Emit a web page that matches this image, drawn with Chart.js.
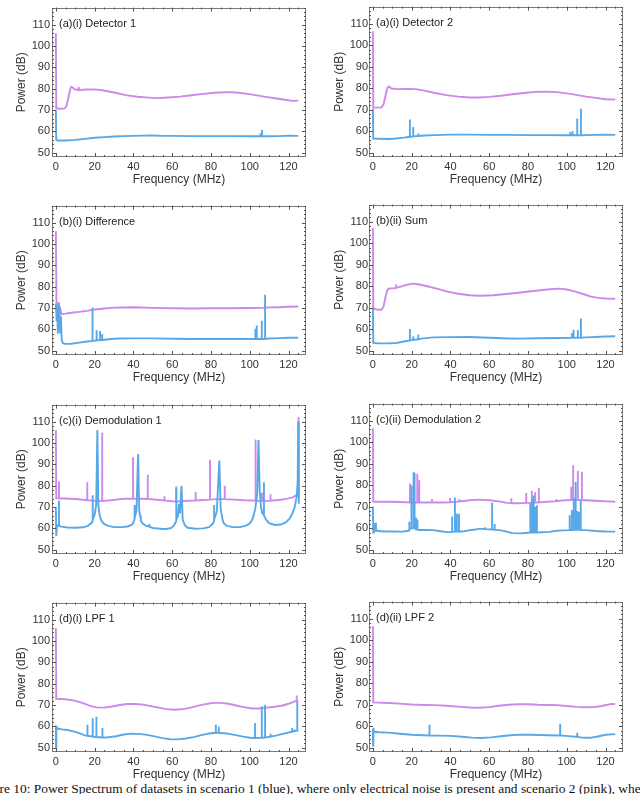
<!DOCTYPE html>
<html><head><meta charset="utf-8">
<script src="https://cdn.jsdelivr.net/npm/chart.js@4/dist/chart.umd.min.js"></script>
<style>
html,body{margin:0;padding:0;background:#fff;width:640px;height:794px;overflow:hidden;position:relative}
.p{position:absolute;width:320px;height:198px}
#caption{position:absolute;left:-25px;top:781px;font-size:13.4px;font-family:"Liberation Serif",serif;white-space:nowrap;color:#111}
</style></head><body>
<div id="caption">Figure 10: Power Spectrum of datasets in scenario 1 (blue), where only electrical noise is present and scenario 2 (pink), where</div>
<script>
// ---- axis ticks ----
const freqTicks = [0,20,40,60,80,100,120];
const powerTicks = [50,60,70,80,90,100,110];

// ---- (a)(i) Detector 1 ----
const a1Pink = [[0,106],[0.2,70.8],[2,70.6],[4.5,70.8],[5.5,72],[6.5,76],[7.5,80.2],[8.2,80.9],[9.5,79.8],[11.8,79.4],[11.8,80.8],[11.8,79.4],[16,79.6],[20,79.7],[24,79.3],[30,78.2],[36,77],[42,76.2],[48,75.8],[52,75.6],[58,75.9],[64,76.3],[70,76.9],[76,77.6],[82,78.1],[88,78.4],[93,78.2],[98,77.7],[103,77],[108,76.2],[113,75.5],[118,74.8],[122,74.3],[125,74.4]];
const a1Blue = [[0,70],[0.2,56],[1,55.7],[5,55.7],[10,56],[15,56.5],[20,57],[25,57.3],[30,57.6],[35,57.8],[40,57.9],[45,58],[50,58.1],[55,57.9],[60,57.9],[70,57.8],[80,57.8],[90,57.8],[100,57.7],[105.5,57.7],[105.5,59],[105.5,57.7],[106.3,57.7],[106.3,60.8],[106.3,57.7],[110,57.7],[115,57.8],[120,58],[125,57.9]];

// ---- (a)(i) Detector 2 ----
const a2Pink = [[0,106.5],[0.2,71],[2,71],[4.5,71.1],[5.5,72.5],[6.5,76.5],[7.5,80.2],[8.3,80.8],[9.5,79.9],[13,79.6],[18,79.7],[22,79.6],[26,79],[32,77.8],[38,76.8],[44,76.1],[50,75.7],[55,75.7],[60,76],[66,76.5],[72,77.2],[78,77.8],[84,78.3],[90,78.4],[95,78.2],[100,77.6],[105,76.9],[110,76.1],[115,75.5],[120,74.9],[125,74.7]];
const a2Blue = [[0,70.5],[0.2,56.6],[3,56.5],[8,56.4],[12,56.6],[16,57],[19.1,57.4],[19.1,65.4],[19.1,57.4],[20.8,57.6],[20.8,62],[20.8,57.6],[23.4,57.8],[23.4,58.9],[23.4,57.8],[27,58],[32,58.2],[40,58.4],[50,58.4],[60,58.3],[70,58.3],[80,58.2],[90,58.2],[100,58.1],[101.8,58.1],[101.8,59.6],[101.8,58.1],[103,58.1],[103,60],[103,58.1],[105.4,58.1],[105.4,65.9],[105.4,58.1],[107.3,58.1],[107.3,70.5],[107.3,58.1],[110,58.2],[115,58.3],[120,58.4],[125,58.3]];

// ---- (b)(i) Difference ----
const b1Pink = [[0,106],[0.3,73],[0.6,68.5],[0.9,72.5],[1.2,69],[1.5,72.8],[1.8,68],[2.3,69.5],[3,67.2],[5,67.4],[8,67.8],[12,68.2],[16,68.7],[20,69.3],[25,69.8],[30,70.2],[40,70.4],[50,70.1],[60,69.9],[70,69.8],[80,69.9],[90,69.9],[100,70],[105,70.1],[107.9,70.2],[107.9,71.5],[107.9,70.2],[110,70.3],[115,70.4],[120,70.6],[125,70.7]];
const b1Blue = [[0,72],[0.4,64],[0.7,70],[1,58],[1.3,71.5],[1.6,60],[1.9,70],[2.2,58.5],[2.6,66],[3,55],[3.6,53.5],[5,53.2],[8,53.3],[12,53.8],[16,54.3],[18.9,54.6],[18.9,70.2],[18.9,54.6],[21,54.8],[21,59.6],[21,54.8],[22.8,55],[22.8,59.3],[22.8,55],[23.9,55],[23.9,57.8],[23.9,55],[27,55.4],[32,55.7],[40,55.8],[50,55.8],[60,55.6],[70,55.5],[80,55.5],[90,55.5],[100,55.5],[102.9,55.5],[102.9,60.3],[102.9,55.5],[103.6,55.5],[103.6,61.8],[103.6,55.5],[106.2,55.5],[106.2,64],[106.2,55.5],[107.9,55.5],[107.9,76.2],[107.9,55.5],[110,55.7],[115,55.9],[120,56.1],[125,56.1]];

// ---- (b)(ii) Sum ----
const b2Pink = [[0,107],[0.2,69.5],[2,69.2],[4.5,69.1],[5.5,70.5],[6.5,75],[7.5,78.3],[8.5,79],[11,79],[12,79.3],[12,80.8],[12,79.3],[14,79.7],[17,80.6],[20.6,81.2],[24,80.8],[28,80],[33,78.9],[38,77.6],[44,76.5],[50,75.8],[55,75.6],[62,75.8],[69,76.4],[76,77.1],[84,77.9],[90,78.5],[96,78.9],[100,78.5],[104,77.6],[108,76.5],[112,75.3],[116,74.6],[120,74.3],[125,74.2]];
const b2Blue = [[0,70],[0.2,53.6],[3,53.4],[8,53.4],[12,53.6],[16,54.3],[19.1,54.8],[19.1,60.1],[19.1,54.8],[20.8,55],[20.8,56.7],[20.8,55],[23.4,55.3],[23.4,57.5],[23.4,55.3],[25,55.6],[31,56.2],[40,56.3],[50,56.4],[60,56],[70,55.7],[76,55.6],[85,55.8],[95,55.9],[102.6,56],[102.6,58.1],[102.6,56],[103.5,56],[103.5,59.7],[103.5,56],[105.7,56],[105.7,59.6],[105.7,56],[107.3,56],[107.3,65],[107.3,56],[110,56.2],[115,56.4],[120,56.6],[125,56.7]];

// ---- (c)(i) Demodulation 1 ----
const c1Pink = [[0,106],[0.2,74.2],[1.6,74],[1.6,82],[1.6,74],[5,74],[10,73.8],[16.2,73.2],[16.2,81.6],[16.2,73.2],[20,72.9],[23.9,72.8],[23.9,104.8],[23.9,73],[27,73.1],[31,73.5],[35,73.9],[39.8,74],[39.8,93.3],[39.8,74],[44,73.9],[47.4,73.8],[47.4,85.1],[47.4,73.8],[52,73.4],[56,73.1],[56,75.1],[56,73.1],[60,72.7],[62.1,72.6],[62.1,79.6],[62.1,72.6],[66,72.8],[72.1,73.1],[72.1,77.1],[72.1,73.1],[76,73.3],[79.5,73.5],[79.5,92.2],[79.5,73.5],[83,73.7],[87.1,73.7],[87.1,80],[87.1,73.7],[92,73.5],[97,73.2],[103,73],[103,101.6],[103,72.9],[106.3,72.9],[106.3,76.7],[106.3,72.9],[110.7,73],[110.7,76],[110.7,73],[115,73.3],[119,73.8],[122,74.5],[124.2,75.6],[125,76.2],[125,112.2],[125.3,76]];
const c1Blue = [[0,70],[0.2,56.3],[0.6,61.5],[1.6,61.2],[1.6,73],[1.6,61.2],[3,60.8],[6,60.4],[10,60.3],[14,60.5],[16.5,61.2],[18,62.3],[19,63.5],[19,75.5],[19,64],[20,66.5],[20.8,71],[21.4,106.1],[21.9,71],[22.6,66],[23.5,63.5],[25,62],[27,61.2],[30,60.6],[34,60.6],[37,60.9],[39,61.6],[40.1,63],[40.6,64.5],[40.6,71],[40.6,65],[41.6,68.5],[42.4,94.9],[43,68],[43.8,64.5],[43.8,66],[43.8,63.5],[45,62],[47,61],[48.2,61],[48.2,62],[48.2,60.8],[50,60.2],[54,59.8],[57,59.7],[59.5,60.2],[61,61.5],[62.1,63.5],[62.1,79],[62.1,64],[63,66],[63.5,71.5],[64,67],[64.8,79.9],[65.4,64],[66.5,61.5],[68,60.3],[72,59.8],[76,60],[79,60.6],[81,62.3],[81.6,63.5],[81.6,71],[81.6,64],[83,68],[84.3,91.8],[85,69],[85.8,65],[85.8,64.8],[86.5,62.5],[88,61.3],[91,60.6],[95,60.6],[98,61.3],[100,62.3],[101.5,64.5],[102.8,69],[103.8,76],[104.5,101.4],[105.1,78],[105.8,70],[106.5,67],[107.3,67],[107.3,81.6],[107.3,66],[108.5,64],[110,62.5],[113,61.6],[116,61.8],[118.5,62.8],[120.5,64.5],[122,67],[123.2,70],[124.2,75],[124.7,82],[125,110],[125.3,71.5]];

// ---- (c)(ii) Demodulation 2 ----
const c2Pink = [[0,106.5],[0.2,72.4],[3,72.3],[8,72.3],[14,72.2],[19.1,72],[19.1,80.8],[19.1,72],[21,72],[22.9,72],[22.9,85.3],[22.9,72],[23.9,72],[23.9,82.3],[23.9,72],[27,72],[30.5,72.1],[30.5,73.6],[30.5,72.1],[35,72],[39.8,72.1],[39.8,74.1],[39.8,72.1],[43,72.4],[44.6,72.5],[44.6,73.6],[44.6,72.5],[50,73],[55,73.3],[60,73],[65,72.5],[69,71.8],[71.4,71.6],[71.4,74],[71.4,71.6],[75,71.6],[79.1,71.8],[79.1,76.4],[79.1,71.8],[82,71.9],[82,77.4],[82,71.9],[83.7,72],[83.7,76.7],[83.7,72],[85.6,72],[85.6,78.8],[85.6,72],[90,72.3],[94.6,72.6],[94.6,73.6],[94.6,72.6],[99,73],[102.3,73.1],[102.3,79.3],[102.3,73.1],[103.3,73.1],[103.3,89.3],[103.3,73.1],[105.7,73.1],[105.7,86.8],[105.7,73.1],[107.8,73.1],[107.8,86.3],[107.8,73.1],[112,72.9],[117,72.7],[121,72.5],[125,72.3]];
const c2Blue = [[0,70],[0.2,58],[0.5,62],[0.8,58.5],[1.2,62.5],[1.6,58.8],[2.5,58.8],[5,58.5],[10,58.5],[15,58.4],[18,58.7],[18.8,59],[18.8,63],[18.8,59.5],[19.9,60],[19.9,80],[19.9,60],[21,60],[21,86],[21,60],[21.5,60],[21.5,85.8],[21.5,60],[22.2,60],[22.2,65],[22.2,59.5],[23,59.5],[23,64],[23,59.3],[24,59.2],[27,59.2],[31,59.1],[35,58.6],[38,58.2],[40.9,58.3],[40.9,65.5],[40.9,58.3],[42.3,58.4],[42.3,74.3],[42.3,58.4],[43.3,58.4],[43.3,66.7],[43.3,58.4],[44.4,58.4],[44.4,66.7],[44.4,58.4],[47,58.6],[51,59.2],[55,59.7],[58,59.7],[58,60.5],[58,59.6],[61.5,59.4],[61.5,71.8],[61.5,59.4],[62.8,59.3],[62.8,62],[62.8,59.3],[66,59],[69,58.4],[72,57.7],[76,57.6],[80,57.9],[81.2,58],[81.2,71.5],[81.2,58],[82.2,58],[82.2,73.7],[82.2,58],[82.9,58],[82.9,75.2],[82.9,58],[83.8,58],[83.8,70],[83.8,58],[84.6,58],[84.6,70.7],[84.6,58],[87,58.1],[91,58.3],[95,58.8],[98,59],[101.5,59.1],[101.5,66],[101.5,59.2],[102.6,59.2],[102.6,68.5],[102.6,59.2],[103.6,59.2],[103.6,74],[103.6,59.2],[104.6,59.3],[104.6,81.5],[104.6,59.3],[105.5,59.3],[105.5,68],[105.5,59.3],[106.2,59.3],[106.2,67.5],[106.2,59.3],[107.2,59.2],[107.2,73],[107.2,59.2],[110,59.1],[115,58.7],[120,58.5],[125,58.4]];

// ---- (d)(i) LPF 1 ----
const d1Pink = [[0,106],[0.2,72.8],[3,72.8],[6,72.6],[9,72.2],[12,71.5],[15,70.5],[18,69.5],[21,68.9],[25,68.8],[29,69.3],[33,70],[37,70.5],[41,70.5],[45,70.2],[49,69.5],[53,68.8],[57,68.1],[61,67.8],[65,68],[69,68.7],[73,69.6],[77,70.4],[81,71],[85,71],[89,70.6],[93,69.8],[97,69],[101,68.4],[105,68.4],[109,68.8],[113,69.2],[117,69.8],[120,70.6],[122,71.3],[123.5,71.8],[124.2,72],[124.2,74.5],[124.2,72],[125,72]];
const d1Blue = [[0,59.5],[0.1,50],[0.25,59.8],[1,59],[3,58.6],[6,58.3],[9,57.7],[12,56.8],[15,55.8],[16.3,55.6],[16.3,60.8],[16.3,55.6],[19,55.2],[19,63.8],[19,55.2],[20.9,55],[20.9,64.5],[20.9,55],[24,54.8],[24,59.2],[24,54.8],[27,54.9],[31,55.4],[35,56.2],[39,56.6],[43,56.5],[47,56],[51,55.3],[55,54.5],[59,54],[63,53.9],[67,54.3],[71,55],[75,55.9],[79,56.7],[82.5,57],[82.5,60.8],[82.5,57],[84,57],[84,60],[84,57],[88,56.7],[92,56],[96,55.3],[100,54.7],[102.7,54.6],[102.7,61.6],[102.7,54.6],[106.2,54.7],[106.2,69.4],[106.2,54.7],[107.9,54.8],[107.9,70.1],[107.9,54.8],[110.7,55.2],[110.7,56.6],[110.7,55.2],[114,55.8],[118,56.7],[121.9,57.5],[121.9,59.2],[121.9,57.5],[123,57.8],[123,58.5],[123,57.8],[124.5,58],[124.5,71.8],[124.5,58],[125,57.9]];

// ---- (d)(ii) LPF 2 ----
const d2Pink = [[0,106.5],[0.2,71.1],[3,71],[8,70.8],[14,70.5],[20,70.1],[26,69.9],[32,69.8],[38,69.5],[44,69.1],[50,68.7],[55,68.6],[60,68.9],[65,69.5],[70,70],[75,70.3],[80,70.2],[85,70],[90,69.9],[95,69.8],[100,69.4],[105,69],[110,68.8],[114,68.9],[118,69.4],[121,70],[123,70.4],[125,70.3]];
const d2Blue = [[0,58.5],[0.1,51],[0.25,59.2],[0.6,57.4],[3,57.2],[8,57],[14,56.5],[20,56],[26,55.8],[29.2,55.7],[29.2,60.7],[29.2,55.7],[34,55.6],[40,55.5],[46,55.1],[51,54.7],[56,54.5],[61,54.8],[66,55.3],[71,55.8],[76,56.1],[81,56],[86,55.9],[91,55.8],[96.6,55.7],[96.6,61.1],[96.6,55.7],[101,55.4],[105.4,55],[105.4,57],[105.4,55],[109,54.6],[112,54.6],[116,55.2],[120,56],[125,56.3]];

const panelTitles = ['(a)(i) Detector 1','(a)(i) Detector 2','(b)(i) Difference','(b)(ii) Sum','(c)(i) Demodulation 1','(c)(ii) Demodulation 2','(d)(i) LPF 1','(d)(ii) LPF 2'];
const blueSeries = [a1Blue,a2Blue,b1Blue,b2Blue,c1Blue,c2Blue,d1Blue,d2Blue];
const pinkSeries = [a1Pink,a2Pink,b1Pink,b2Pink,c1Pink,c2Pink,d1Pink,d2Pink];

const BLUE = 'rgb(88,168,232)';
const PINK = 'rgb(204,136,234)';
const FONT = '"Liberation Sans", Arial, sans-serif';
const rowTops = [-1,197,396,594];
const colLefts = [0,320];

const toXY = arr => arr.map(([x,y]) => ({x,y}));

function framePlugin(title){
  return {
    id:'frame',
    afterDraw(chart){
      const {ctx, chartArea:{left,top,right,bottom}, scales:{x,y}} = chart;
      ctx.save();
      ctx.strokeStyle = '#7a7a7a';
      ctx.lineWidth = 1;
      ctx.strokeRect(Math.round(left)+0.5, Math.round(top)+0.5, Math.round(right-left)-1, Math.round(bottom-top)-1);
      ctx.strokeStyle = '#555';
      ctx.beginPath();
      const xs = [];
      for (let i=0;i<freqTicks.length;i++){
        xs.push([freqTicks[i],4]);
        if (i<freqTicks.length-1){
          const st=(freqTicks[i+1]-freqTicks[i])/4;
          for(let k=1;k<4;k++) xs.push([freqTicks[i]+k*st,2]);
        }
      }
      xs.push([freqTicks[freqTicks.length-1]+5,2]);
      xs.forEach(([v,len])=>{
        const px = Math.round(x.getPixelForValue(v))+0.5;
        if (px<left||px>right) return;
        ctx.moveTo(px,bottom); ctx.lineTo(px,bottom-len);
        ctx.moveTo(px,top); ctx.lineTo(px,top+len);
      });
      const ys = [];
      for (let i=0;i<powerTicks.length;i++){
        ys.push([powerTicks[i],4]);
        const nxt = i<powerTicks.length-1 ? powerTicks[i+1] : powerTicks[i]+10;
        const st=(nxt-powerTicks[i])/5;
        for(let k=1;k<5;k++) ys.push([powerTicks[i]+k*st,2]);
      }
      ys.forEach(([v,len])=>{
        const py = Math.round(y.getPixelForValue(v))+0.5;
        if (py<top||py>bottom) return;
        ctx.moveTo(left,py); ctx.lineTo(left+len,py);
        ctx.moveTo(right,py); ctx.lineTo(right-len,py);
      });
      ctx.stroke();
      ctx.fillStyle = '#222';
      ctx.font = '11px ' + FONT;
      ctx.textBaseline = 'middle';
      ctx.textAlign = 'left';
      ctx.fillText(title, left+7, top+16);
      ctx.restore();
    }
  };
}

panelTitles.forEach((title, i) => {
  const col = i % 2, row = Math.floor(i/2);
  const div = document.createElement('div');
  div.className = 'p';
  div.style.left = colLefts[col] + 'px';
  div.style.top = rowTops[row] + 'px';
  const cv = document.createElement('canvas');
  cv.width = 320; cv.height = 198;
  cv.style.width = '320px'; cv.style.height = '198px';
  div.appendChild(cv);
  document.body.appendChild(div);
  new Chart(cv.getContext('2d'), {
    type: 'line',
    data: { datasets: [
      { data: toXY(blueSeries[i]), borderColor: BLUE, borderWidth: 1.9, pointRadius: 0, tension: 0, fill: false },
      { data: toXY(pinkSeries[i]), borderColor: PINK, borderWidth: 1.9, pointRadius: 0, tension: 0, fill: false }
    ]},
    options: {
      responsive: false, animation: false, maintainAspectRatio: false,
      layout: { padding: { left: 0, right: col ? 17 : 14, top: 1, bottom: 0 } },
      plugins: { legend: { display: false }, tooltip: { enabled: false } },
      scales: {
        x: {
          type: 'linear', min: -2, max: 129,
          grid: { display: false, drawTicks: false }, border: { display: false },
          afterBuildTicks: s => { s.ticks = freqTicks.map(v => ({ value: v })); },
          ticks: { padding: 3, font: { family: FONT, size: 11 }, color: '#333', maxRotation: 0, autoSkip: false },
          title: { display: true, text: 'Frequency (MHz)', font: { family: FONT, size: 12 }, color: '#333', padding: { top: 0, bottom: 10.5 } },
          afterFit: s => { s.height = 40; }
        },
        y: {
          type: 'linear', min: 48, max: 118,
          grid: { display: false, drawTicks: false }, border: { display: false },
          afterBuildTicks: s => { s.ticks = powerTicks.map(v => ({ value: v })); },
          ticks: { padding: col ? 1 : 2, font: { family: FONT, size: 11 }, color: '#333', autoSkip: false },
          title: { display: true, text: 'Power (dB)', font: { family: FONT, size: 12 }, color: '#333', padding: { top: col ? 12 : 14, bottom: 0 } },
          afterFit: s => { s.width = col ? 49 : 52; }
        }
      }
    },
    plugins: [framePlugin(title)]
  });
});
</script>
</body></html>
